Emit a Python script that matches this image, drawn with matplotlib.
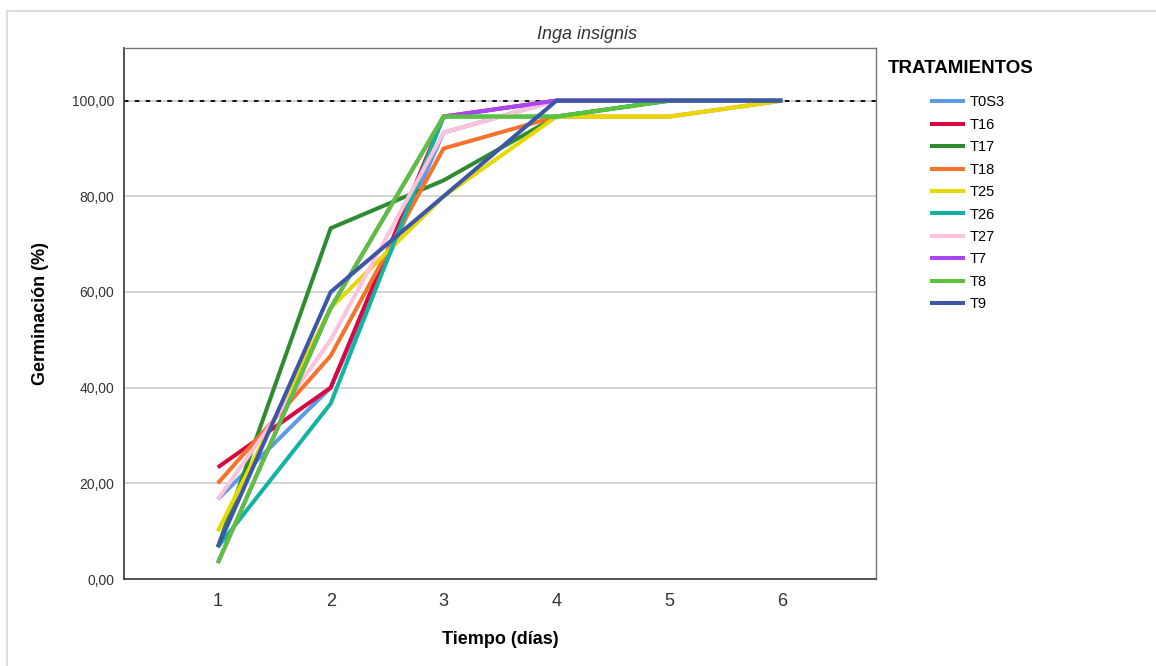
import matplotlib.pyplot as plt
from matplotlib.lines import Line2D

plt.rcParams['font.family'] = ['Liberation Sans', 'DejaVu Sans']

# germination (%) per day for each treatment
days = [1, 2, 3, 4, 5, 6]
treatments = ['T0S3', 'T16', 'T17', 'T18', 'T25', 'T26', 'T27', 'T7', 'T8', 'T9']
t0s3 = [16.67, 40.00, 93.33, 100.00, 100.00, 100.00]
t16 = [23.33, 40.00, 96.67, 100.00, 100.00, 100.00]
t17 = [6.67, 73.33, 83.33, 96.67, 100.00, 100.00]
t18 = [20.00, 46.67, 90.00, 96.67, 96.67, 100.00]
t25 = [10.00, 56.67, 80.00, 96.67, 96.67, 100.00]
t26 = [6.67, 36.67, 96.67, 96.67, 100.00, 100.00]
t27 = [16.67, 50.00, 93.33, 100.00, 100.00, 100.00]
t7 = [3.33, 56.67, 96.67, 100.00, 100.00, 100.00]
t8 = [3.33, 56.67, 96.67, 96.67, 100.00, 100.00]
t9 = [6.67, 60.00, 80.00, 100.00, 100.00, 100.00]
series = [t0s3, t16, t17, t18, t25, t26, t27, t7, t8, t9]
y_ticks = [0, 20, 40, 60, 80, 100]

colors = ['#5b9be8', '#d90840', '#2e8b30', '#f7722a', '#e6d800',
          '#12b3a0', '#ffc2dc', '#a846f0', '#5cc23c', '#3c57a8']

fig = plt.figure(figsize=(11.56, 6.66), dpi=100)
ax = fig.add_axes([0.1073, 0.1306, 0.6505, 0.7973])

# thin grey frame around the whole chart
fig.add_artist(Line2D([0.006, 1.0], [0.9835, 0.9835], transform=fig.transFigure,
                      color='#dddddd', lw=1.5))
fig.add_artist(Line2D([0.006, 0.006], [0.0, 0.9835], transform=fig.transFigure,
                      color='#dddddd', lw=1.5))

for tick in y_ticks[1:]:
    ax.axhline(tick, color='#cccccc', lw=1.2, zorder=0)
ax.axhline(100, color='black', lw=1.3, ls=(0, (2.5, 3.5)), zorder=1)

for name, values, color in zip(treatments, series, colors):
    ax.plot(days, values, color=color, lw=2.9, label=name,
            solid_capstyle='butt', zorder=2)

ax.set_xlim(0.17, 6.83)
ax.set_ylim(0, 111)
ax.set_xticks(days)
ax.set_xticklabels([str(d) for d in days], fontsize=13, color='#333333')
ax.set_yticks(y_ticks)
ax.set_yticklabels([f'{t:.2f}'.replace('.', ',') for t in y_ticks],
                   fontsize=10, color='#333333')
ax.tick_params(axis='both', length=0)
ax.tick_params(axis='x', pad=10)
ax.tick_params(axis='y', pad=7)

for side in ['left', 'bottom']:
    ax.spines[side].set_color('#444444')
    ax.spines[side].set_linewidth(1.3)
for side in ['top', 'right']:
    ax.spines[side].set_color('#777777')
    ax.spines[side].set_linewidth(1.0)

ax.set_xlabel('Tiempo (días)', fontsize=13, fontweight='bold')
ax.set_ylabel('Germinación (%)', fontsize=13, fontweight='bold')
ax.xaxis.set_label_coords(0.5, -0.097)
ax.yaxis.set_label_coords(-0.1, 0.5)
fig.text(0.508, 0.948, 'Inga insignis', ha='center', va='center',
         fontsize=13, style='italic', color='#333333')

fig.text(0.768, 0.897, 'TRATAMIENTOS', ha='left', va='center',
         fontsize=13.5, fontweight='bold')
ax.legend(loc='upper left', bbox_to_anchor=(0.8045, 0.857),
          bbox_transform=fig.transFigure, frameon=False, fontsize=10.5,
          handlelength=2.4, handletextpad=0.35, labelspacing=0.58,
          borderpad=0, borderaxespad=0)

fig.savefig('out.png', dpi=100)
